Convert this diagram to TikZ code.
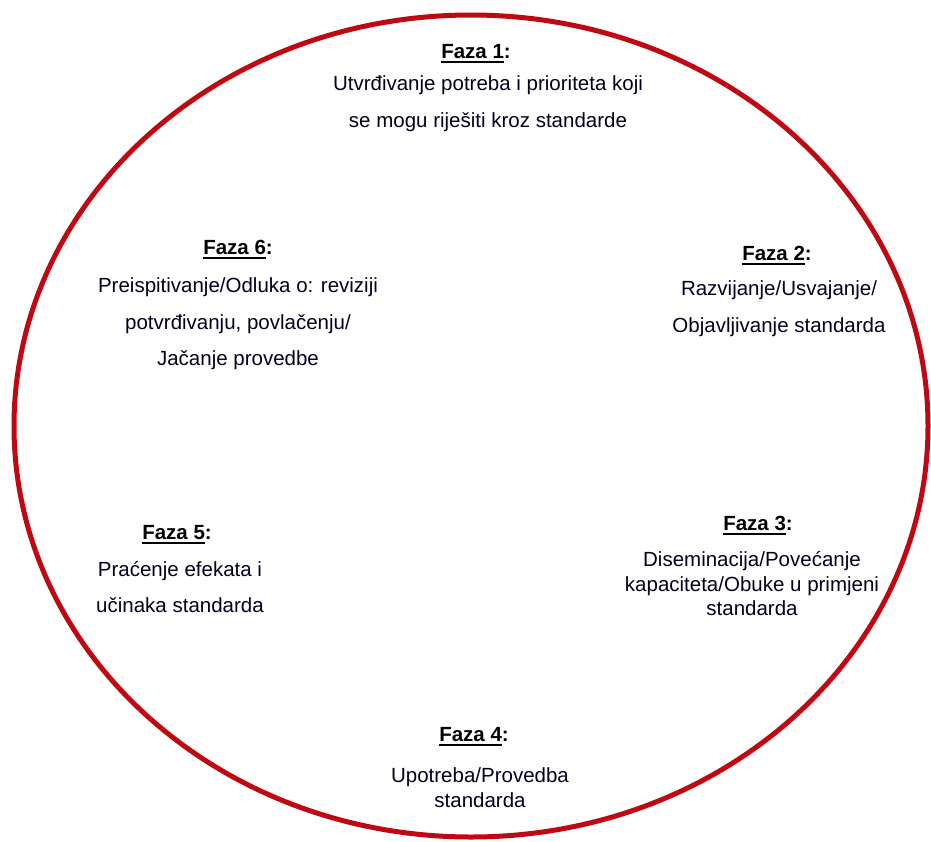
\documentclass[tikz,border=0pt]{standalone}
\usepackage{fontspec}
\setmainfont{Liberation Sans}
\definecolor{ringred}{RGB}{192,8,18}
\newcommand\fazatitle[1]{\textbf{\setbox0\hbox{Faza #1}\rlap{\rule[-4.5pt]{\wd0}{2pt}}\box0:}}
\begin{document}
\begin{tikzpicture}[x=1pt,y=-1pt,
  ring/.style={draw=ringred,line width=5pt},
  ttl/.style={inner sep=0pt,font=\fontsize{20.5}{24}\selectfont},
  body/.style={inner sep=0pt,align=center,text=black!88!blue},
  sp36/.style={font=\fontsize{20.5}{36.5}\selectfont},
  sp25/.style={font=\fontsize{20.5}{24.5}\selectfont}]
\useasboundingbox (0,0) rectangle (931,841);
\draw[ring] (471,426) ellipse [x radius=457, y radius=411];
% Faza 1
\node[ttl] (t1) at (476,54) {\fazatitle{1}};
\node[body,sp36] (b1) at (488,103.5) {Utvrđivanje potreba i prioriteta koji\\se mogu riješiti kroz standarde};
% Faza 2
\node[ttl] (t2) at (777,256) {\fazatitle{2}};
\node[body,sp36] (b2) at (779,308.5) {Razvijanje/Usvajanje/\\Objavljivanje standarda};
% Faza 3
\node[ttl] (t3) at (758,526) {\fazatitle{3}};
\node[body,sp25] (b3) at (752,584) {Diseminacija/Povećanje\\kapaciteta/Obuke u primjeni\\standarda};
% Faza 4
\node[ttl] (t4) at (474,737) {\fazatitle{4}};
\node[body,sp25] (b4) at (480,787.5) {Upotreba/Provedba\\standarda};
% Faza 5
\node[ttl] (t5) at (177,535) {\fazatitle{5}};
\node[body,sp36] (b5) at (180,587) {Praćenje efekata i\\učinaka standarda};
% Faza 6
\node[ttl] (t6) at (238,250) {\fazatitle{6}};
\node[body,sp36] (b6) at (238,324) {Preispitivanje/Odluka o: reviziji\\potvrđivanju, povlačenju/\\Jačanje provedbe};
\end{tikzpicture}
\end{document}
